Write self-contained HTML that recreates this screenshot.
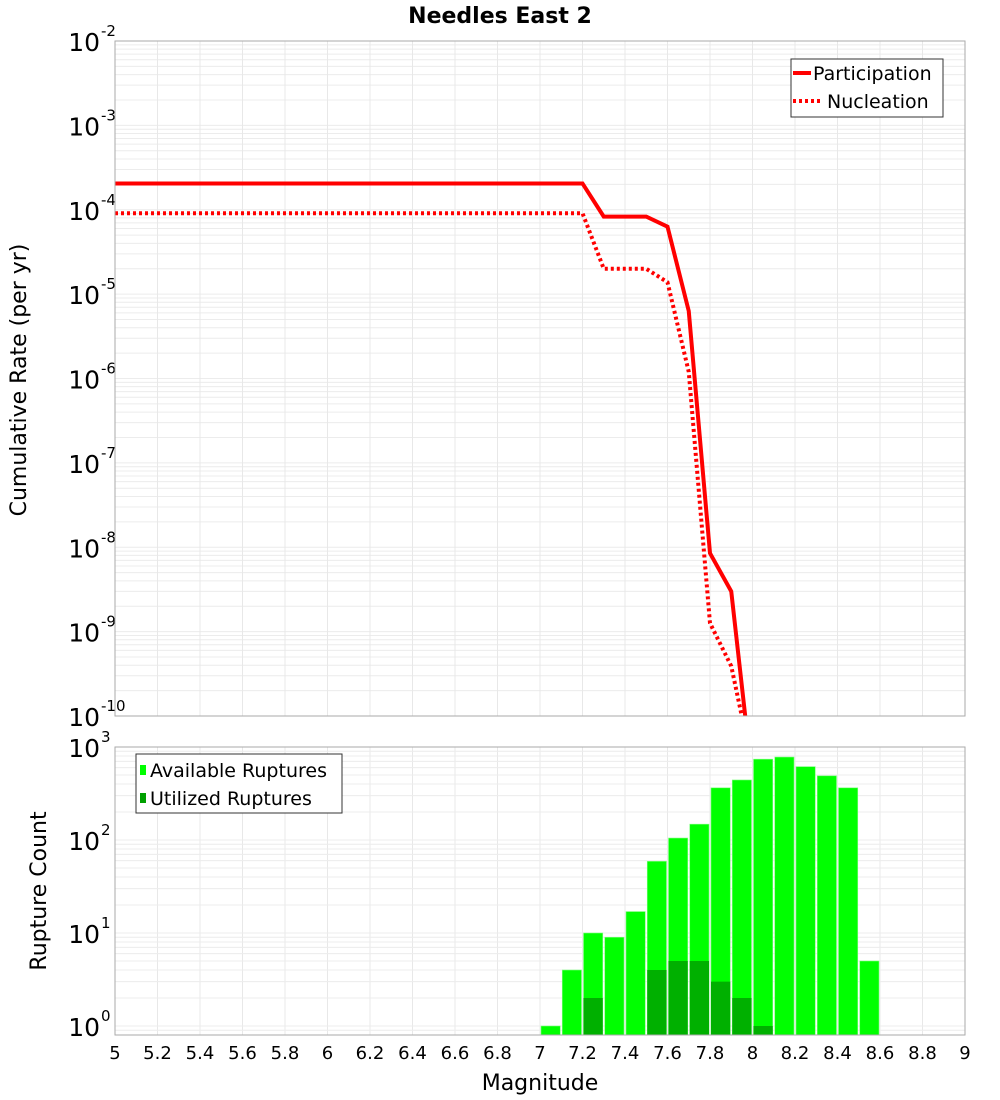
<!DOCTYPE html>
<html><head><meta charset="utf-8"><style>
html,body{margin:0;padding:0;background:#fff;}
svg{display:block;font-family:"DejaVu Sans","Liberation Sans",sans-serif;}
</style></head><body>
<svg id="chart" width="1000" height="1100" viewBox="0 0 1000 1100" xmlns="http://www.w3.org/2000/svg">
<text x="500" y="23" text-anchor="middle" font-size="22" font-weight="bold">Needles East 2</text>
<g id="topPlot"></g>
<g id="botPlot"></g>
<text transform="translate(26,380) rotate(-90)" text-anchor="middle" font-size="22">Cumulative Rate (per yr)</text>
<text transform="translate(46,891) rotate(-90)" text-anchor="middle" font-size="22">Rupture Count</text>
<text x="540" y="1090" text-anchor="middle" font-size="22">Magnitude</text>
</svg>
<script>
// data
const mags = [5.0, 7.2, 7.3, 7.4, 7.5, 7.6, 7.7, 7.8, 7.9, 8.0];
const participation = [2.05e-4, 2.05e-4, 8.3e-5, 8.3e-5, 8.3e-5, 6.3e-5, 6.3e-6, 8.5e-9, 3.0e-9, 1.7e-11];
const nucleation = [9.1e-5, 9.1e-5, 2.0e-5, 2.0e-5, 2.0e-5, 1.38e-5, 1.2e-6, 1.26e-9, 3.9e-10, 2.5e-11];
const binStarts = [7.0, 7.1, 7.2, 7.3, 7.4, 7.5, 7.6, 7.7, 7.8, 7.9, 8.0, 8.1, 8.2, 8.3, 8.4, 8.5];
const available = [1, 4, 10, 9, 17, 59, 105, 148, 364, 442, 740, 780, 615, 490, 364, 5];
const utilized = [0, 0, 2, 0, 0, 4, 5, 5, 3, 2, 1, 0, 0, 0, 0, 0];
const xTicks = [5, 5.2, 5.4, 5.6, 5.8, 6, 6.2, 6.4, 6.6, 6.8, 7, 7.2, 7.4, 7.6, 7.8, 8, 8.2, 8.4, 8.6, 8.8, 9];
const topExps = [-2, -3, -4, -5, -6, -7, -8, -9, -10];
const botExps = [0, 1, 2, 3];

const NS = "http://www.w3.org/2000/svg";
const X0 = 115, X1 = 965;
const xs = m => X0 + (m - 5) / 4 * (X1 - X0);
const T0 = 41, T1 = 716;
const yTop = v => T0 + (-2 - Math.log10(v)) * (T1 - T0) / 8;
const B0 = 747, B1 = 1035, BD = 93;
const yBot = v => 1026 - Math.log10(v) * BD;
function mk(tag, attrs, parent) {
  const e = document.createElementNS(NS, tag);
  for (const k in attrs) e.setAttribute(k, attrs[k]);
  parent.appendChild(e);
  return e;
}
const gTop = document.getElementById('topPlot'), gBot = document.getElementById('botPlot');

const defs = mk('defs', {}, document.getElementById('chart'));
const cp = mk('clipPath', {id: 'ctop'}, defs);
mk('rect', {x: X0, y: T0, width: X1 - X0, height: T1 - T0}, cp);

for (let d = -10; d < -2; d++) {
  for (let k = 1; k <= 9; k++) {
    const y = yTop(k * Math.pow(10, d));
    const g = mk('line', {x1: X0, x2: X1, y1: y, y2: y, stroke: '#ececec', 'stroke-width': 1}, gTop);
    
    
  }
}
xTicks.forEach(t => {
  const x = xs(t);
  const g = mk('line', {x1: x, x2: x, y1: T0, y2: T1, stroke: '#e8e8e8', 'stroke-width': 1}, gTop);
  
  
  const g2 = mk('line', {x1: x, x2: x, y1: B0, y2: B1, stroke: '#e8e8e8', 'stroke-width': 1}, gBot);
  
  
});
topExps.forEach(e => {
  const y = yTop(Math.pow(10, e));
  const t = mk('text', {x: 100, y: y + 10, 'text-anchor': 'end', 'font-size': 25}, gTop);
  t.textContent = '10';
  
  
  const s = mk('text', {x: 101, y: y - 5, 'font-size': 15}, gTop);
  s.textContent = String(e);
  
  
});
const lg = mk('g', {'clip-path': 'url(#ctop)'}, gTop);
const pp = mk('polyline', {points: mags.map((m, i) => xs(m) + ',' + yTop(participation[i])).join(' '), fill: 'none', stroke: '#ff0000', 'stroke-width': 4}, lg);


const np = mk('polyline', {points: mags.map((m, i) => xs(m) + ',' + yTop(nucleation[i])).join(' '), fill: 'none', stroke: '#ff0000', 'stroke-width': 4, 'stroke-dasharray': '3,3'}, lg);


const tb = mk('rect', {x: X0, y: T0, width: X1 - X0, height: T1 - T0, fill: 'none', stroke: '#aaa', 'stroke-width': 1}, gTop);



const tl = mk('g', {}, gTop);


mk('rect', {x: 791, y: 59, width: 152, height: 58, fill: '#fff', stroke: '#333', 'stroke-width': 1}, tl);
mk('line', {x1: 793, x2: 811, y1: 73, y2: 73, stroke: '#f00', 'stroke-width': 4}, tl);
mk('line', {x1: 793, x2: 822, y1: 101, y2: 101, stroke: '#f00', 'stroke-width': 4, 'stroke-dasharray': '3,3'}, tl);
const l1 = mk('text', {x: 813, y: 80, 'font-size': 19}, tl); l1.textContent = 'Participation';


const l2 = mk('text', {x: 827, y: 108, 'font-size': 19}, tl); l2.textContent = 'Nucleation';



for (let d = -1; d < 3; d++) {
  for (let k = 1; k <= 9; k++) {
    const y = yBot(k * Math.pow(10, d));
    if (y < B0 || y > B1) continue;
    const g = mk('line', {x1: X0, x2: X1, y1: y, y2: y, stroke: '#ececec', 'stroke-width': 1}, gBot);
    
    
  }
}
botExps.forEach(e => {
  const y = yBot(Math.pow(10, e));
  const t = mk('text', {x: 100, y: y + 10, 'text-anchor': 'end', 'font-size': 25}, gBot);
  t.textContent = '10';
  
  
  const s = mk('text', {x: 101, y: y - 5, 'font-size': 15}, gBot);
  s.textContent = String(e);
  
  
});
binStarts.forEach((m, i) => {
  const x = xs(m) + 1, w = xs(m + 0.1) - xs(m) - 2;
  const ya = yBot(available[i]);
  const r = mk('rect', {x: x, y: ya, width: w, height: B1 - ya, fill: '#00ff00', stroke: '#7fff7f', 'stroke-width': 0.6}, gBot);
  
  
  if (utilized[i] > 0) {
    const yu = yBot(utilized[i]);
    const u = mk('rect', {x: x, y: yu, width: w, height: B1 - yu, fill: '#00b000'}, gBot);
    
    
  }
});
const bb = mk('rect', {x: X0, y: B0, width: X1 - X0, height: B1 - B0, fill: 'none', stroke: '#aaa', 'stroke-width': 1}, gBot);


xTicks.forEach(t => {
  const l = mk('text', {x: xs(t), y: 1059, 'text-anchor': 'middle', 'font-size': 18}, gBot);
  l.textContent = String(t);
  
  
});
const bl = mk('g', {}, gBot);


mk('rect', {x: 136, y: 754, width: 206, height: 59, fill: '#fff', stroke: '#333', 'stroke-width': 1}, bl);
mk('rect', {x: 140, y: 765, width: 6, height: 10, fill: '#00ff00'}, bl);
mk('rect', {x: 140, y: 793, width: 6, height: 10, fill: '#00a000'}, bl);
const b1 = mk('text', {x: 150, y: 777, 'font-size': 19}, bl); b1.textContent = 'Available Ruptures';


const b2 = mk('text', {x: 150, y: 805, 'font-size': 19}, bl); b2.textContent = 'Utilized Ruptures';


</script>
</body></html>
